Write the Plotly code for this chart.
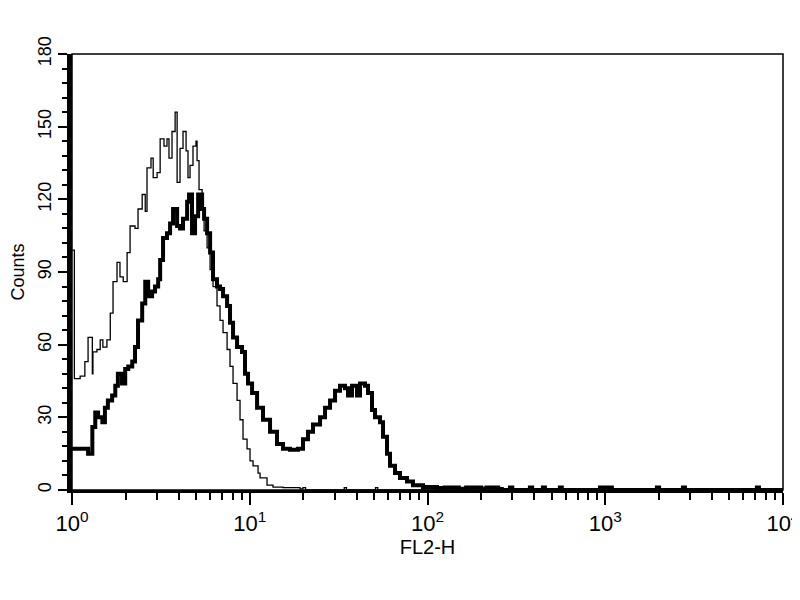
import plotly.graph_objects as go

# Control (thin) histogram: FL2-H value where each step starts, and counts
control_x = [1.00, 1.03, 1.11, 1.18, 1.23, 1.30, 1.31, 1.38, 1.44, 1.49, 1.57, 1.64, 1.70, 1.79,
             1.86, 1.94, 2.04, 2.12, 2.26, 2.35, 2.48, 2.58, 2.64, 2.78, 2.86, 3.01, 3.13, 3.29,
             3.42, 3.51, 3.65, 3.80, 3.90, 4.05, 4.21, 4.38, 4.49, 4.61, 4.79, 4.98, 5.05, 5.18,
             5.39, 5.53, 5.75, 5.98, 6.21, 6.54, 6.80, 7.07, 7.45, 7.74, 8.05, 8.48, 8.81, 9.16,
             9.65, 10.03, 10.43, 11.13, 11.42, 12.50, 13.51, 15.38, 19.17, 19.9, 20.6, 34.0,
             35.0, 51.0, 52.5, 10000]
control_counts = [99, 46, 47, 53, 63, 48, 57, 58, 62, 59, 62, 73, 86, 94,
                  88, 86, 98, 109, 108, 116, 122, 115, 133, 137, 129, 131, 145, 142,
                  145, 137, 148, 156, 127, 141, 148, 140, 129, 134, 142, 144, 136, 124,
                  116, 107, 100, 91, 84, 76, 70, 65, 58, 51, 44, 37, 29, 21,
                  17, 12, 10, 7, 5, 2, 1.2, 1, 0.5, 1, 0, 1,
                  0, 1, 0, 0]

# Stained (thick) histogram
stained_x = [1.00, 1.23, 1.30, 1.35, 1.40, 1.48, 1.53, 1.59, 1.68, 1.75, 1.81, 1.91, 1.99, 2.07,
             2.18, 2.26, 2.35, 2.48, 2.58, 2.68, 2.82, 2.93, 3.05, 3.13, 3.25, 3.42, 3.56, 3.70,
             3.90, 4.05, 4.21, 4.44, 4.55, 4.73, 4.92, 5.12, 5.39, 5.53, 5.75, 5.98, 6.21, 6.54,
             6.80, 7.07, 7.45, 7.74, 8.05, 8.48, 9.04, 9.40, 9.77, 10.30, 10.99, 11.87, 13.00,
             14.23, 15.38, 16.85, 18.68, 19.93, 21.27, 22.69, 24.85, 26.51, 28.29, 30.18, 32.19,
             34.35, 35.70, 37.60, 40.12, 41.72, 44.50, 46.27, 48.73, 50.66, 54.06, 56.20, 59.19,
             61.52, 65.65, 70.03, 76.68, 82.87, 94.34, 113.1, 125, 150, 165, 200, 215, 250, 262,
             291, 300, 377, 388, 446, 458, 556, 570, 935, 1090, 1954, 2010, 2738, 2810, 7140,
             7330, 10000]
stained_counts = [17, 15, 26, 32, 30, 28, 34, 37, 39, 43, 48, 44, 50, 51,
                  53, 59, 70, 77, 86, 80, 82, 84, 87, 95, 104, 106, 110, 116,
                  109, 108, 112, 119, 122, 106, 113, 122, 116, 112, 106, 98, 87, 84,
                  83, 80, 76, 69, 63, 59, 57, 48, 44, 40, 34, 29, 24,
                  19, 17, 16.6, 17, 21, 24, 27, 30, 34, 37, 41, 43,
                  42, 39, 43, 39, 44, 43, 40, 33, 30, 28, 22, 15,
                  10, 7, 5, 3.5, 2, 1.2, 0.8, 1, 0.5, 1, 0.6, 1, 0.4, 0,
                  1, 0, 1, 0, 1, 0, 1, 0, 1, 0, 1, 0, 1, 0, 1,
                  0, 0]

x_tick_values = [1, 10, 100, 1000, 10000]
x_tick_labels = ["10<sup>0</sup>", "10<sup>1</sup>", "10<sup>2</sup>", "10<sup>3</sup>", "10<sup>4</sup>"]
x_minor_values = [m * d for d in (1, 10, 100, 1000) for m in range(2, 10)]
y_tick_values = [0, 30, 60, 90, 120, 150, 180]

font_family = "Liberation Sans, Arial, sans-serif"

fig = go.Figure()
fig.add_trace(go.Scatter(x=control_x, y=control_counts, mode="lines",
                         line=dict(shape="hv", color="black", width=1.3), showlegend=False))
fig.add_trace(go.Scatter(x=stained_x, y=stained_counts, mode="lines",
                         line=dict(shape="hv", color="black", width=4), showlegend=False))

fig.add_shape(type="rect", xref="paper", yref="paper", x0=0, y0=0, x1=1, y1=1,
              line=dict(color="black", width=1.5), layer="above")

fig.update_layout(
    width=792, height=592,
    margin=dict(l=64, r=17, t=46, b=110, autoexpand=False),
    paper_bgcolor="white", plot_bgcolor="white",
    font=dict(family=font_family, color="black"),
    xaxis=dict(type="log", range=[-0.0005, 4.0005], tickmode="array", tickvals=x_tick_values,
               ticktext=x_tick_labels, ticks="outside", ticklen=12, tickwidth=2,
               tickcolor="black", showgrid=False, zeroline=False, showline=True,
               linecolor="black", linewidth=2.5, automargin=False,
               tickfont=dict(family=font_family, size=22, color="black"),
               minor=dict(tickmode="array", tickvals=x_minor_values, ticks="outside",
                          ticklen=7, tickwidth=2, tickcolor="black", showgrid=False),
               title=dict(text="FL2-H", font=dict(size=20, family=font_family), standoff=2)),
    yaxis=dict(range=[0, 180], tickmode="array", tickvals=y_tick_values, ticks="outside",
               ticklen=9, tickwidth=2, tickcolor="black", showgrid=False, zeroline=False,
               showline=True, linecolor="black", linewidth=5, tickangle=-90, automargin=False,
               tickfont=dict(family=font_family, size=18, color="black"),
               minor=dict(dtick=6, tick0=0, ticks="outside", ticklen=5, tickwidth=2,
                          tickcolor="black", showgrid=False),
               title=dict(text="Counts", font=dict(size=18, family=font_family), standoff=14)),
)

fig.write_html("out.html")
